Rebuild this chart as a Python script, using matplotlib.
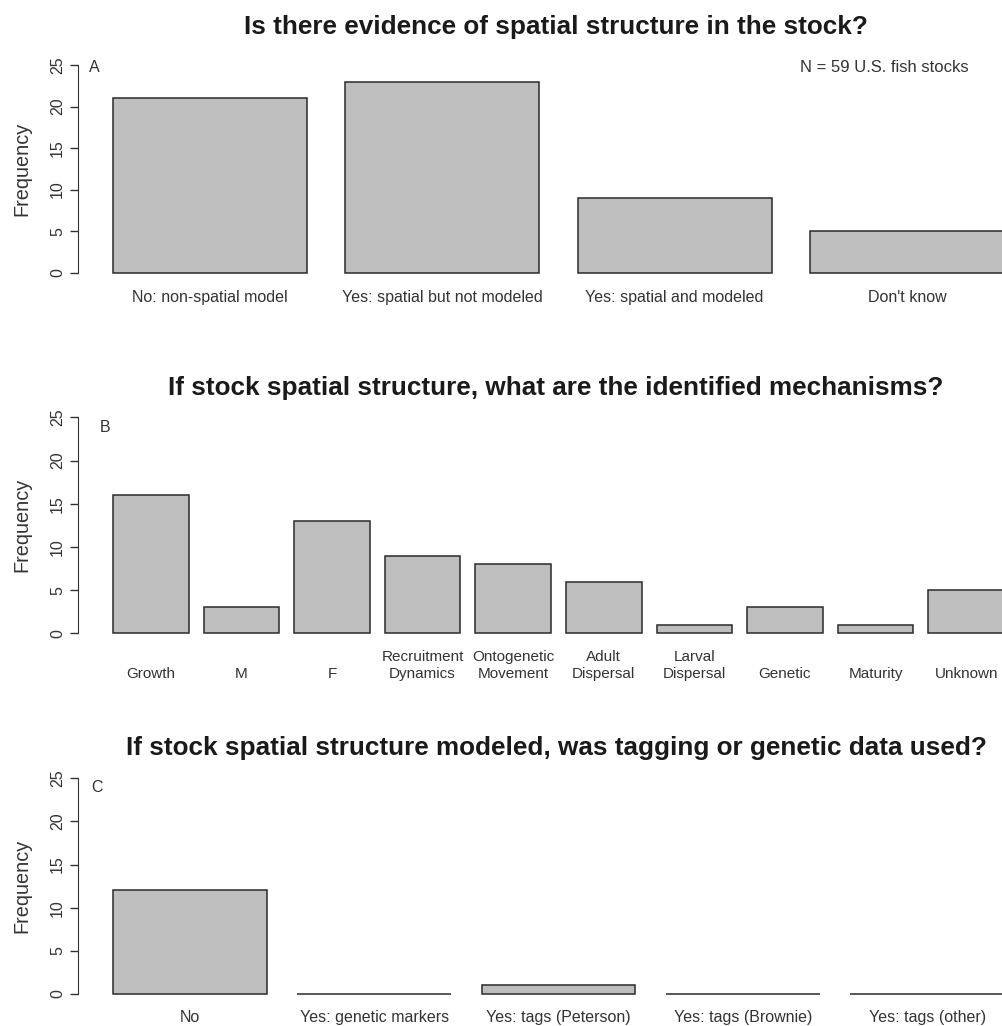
import matplotlib
matplotlib.use("Agg")
import matplotlib.pyplot as plt
import numpy as np

plt.rcParams['font.family'] = ['Liberation Sans', 'DejaVu Sans']

# panel A
labels_a = ["No: non-spatial model", "Yes: spatial but not modeled",
            "Yes: spatial and modeled", "Don't know"]
counts_a = [21, 23, 9, 5]

# panel B
labels_b = ["Growth", "M", "F", "Recruitment\nDynamics", "Ontogenetic\nMovement",
            "Adult\nDispersal", "Larval\nDispersal", "Genetic", "Maturity", "Unknown"]
counts_b = [16, 3, 13, 9, 8, 6, 1, 3, 1, 5]

# panel C
labels_c = ["No", "Yes: genetic markers", "Yes: tags (Peterson)",
            "Yes: tags (Brownie)", "Yes: tags (other)"]
counts_c = [12, 0, 1, 0, 0]

titles = ["Is there evidence of spatial structure in the stock?",
          "If stock spatial structure, what are the identified mechanisms?",
          "If stock spatial structure modeled, was tagging or genetic data used?"]
panel_tags = ["A", "B", "C"]
yticks = [0, 5, 10, 15, 20, 25]

W, H = 1002, 1026
fig = plt.figure(figsize=(W / 100, H / 100), dpi=100)

txt = '#1a1a1a'
# pixel geometry of each plot region: (top, bottom)
regions = [(56.7, 281.0), (408.7, 642.0), (769.7, 1002.6)]
title_y = [27, 388, 748]
tag_xy = [(94, 67), (105, 427), (97, 788)]
left_px, width_px = 77.5, 962.0


def draw_panel(k, labels, counts, label_off, fs_lab):
    top, bot = regions[k]
    ax = fig.add_axes([left_px / W, 1 - bot / H, width_px / W, (bot - top) / H])
    n = len(counts)
    x = 0.7 + 1.2 * np.arange(n)
    ax.bar(x, counts, width=1.0, color='#bebebe', edgecolor='#2a2a2a', linewidth=1.1)
    span = 1.2 * n - 0.2
    ax.set_xlim(0.2 - 0.04 * span, 1.2 * n + 0.04 * span)
    ax.set_ylim(-1, 26)
    for s in ['top', 'right', 'bottom']:
        ax.spines[s].set_visible(False)
    ax.spines['left'].set_bounds(0, 25)
    ax.spines['left'].set_color('#333333')
    ax.set_yticks(yticks)
    ax.set_yticklabels([str(v) for v in yticks], rotation=90, va='center',
                       fontsize=11.5, color='#333333')
    ax.tick_params(axis='y', length=5.5, width=1, color='#333333', pad=3.5)
    ax.set_xticks([])
    for xi, lab in zip(x, labels):
        ax.annotate(lab, xy=(xi, 0), xycoords='data', xytext=(0, -label_off),
                    textcoords='offset points', ha='center', va='bottom',
                    fontsize=fs_lab, color='#333333', linespacing=1.3,
                    annotation_clip=False)
    fig.text(556 / W, 1 - title_y[k] / H, titles[k], ha='center', va='center',
             fontsize=18.8, fontweight='bold', color=txt)
    fig.text(tag_xy[k][0] / W, 1 - tag_xy[k][1] / H, panel_tags[k], ha='center',
             va='center', fontsize=11.5, color='#333333')
    fig.text(22 / W, 1 - (top + bot) / 2 / H, "Frequency", rotation=90,
             ha='center', va='center', fontsize=14.3, color='#333333')
    return ax


draw_panel(0, labels_a, counts_a, 23, 11.5)
draw_panel(1, labels_b, counts_b, 34.5, 11)
draw_panel(2, labels_c, counts_c, 22, 11.5)

fig.text(884 / W, 1 - 67 / H, "N = 59 U.S. fish stocks", ha='center', va='center',
         fontsize=12, color='#333333')

fig.savefig("out.png", dpi=100)
